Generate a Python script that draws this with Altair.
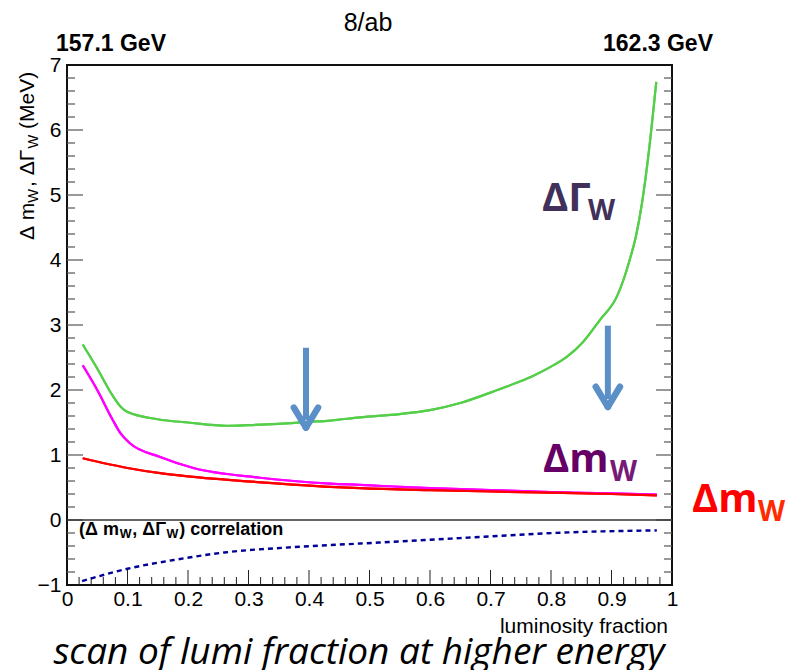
import altair as alt
import pandas as pd

# ---------------- data ----------------
gamma_frac = [0.026, 0.05, 0.075, 0.09, 0.10, 0.15, 0.20, 0.264, 0.30, 0.35, 0.40, 0.435, 0.484,
              0.55, 0.60, 0.65, 0.70, 0.743, 0.771, 0.80, 0.826, 0.853, 0.881, 0.909, 0.92,
              0.93, 0.94, 0.95, 0.962, 0.974]
gamma_val = [2.70, 2.33, 1.92, 1.73, 1.66, 1.55, 1.50, 1.45, 1.46, 1.48, 1.51, 1.53, 1.58,
             1.63, 1.69, 1.80, 1.96, 2.11, 2.22, 2.36, 2.51, 2.74, 3.08, 3.44, 3.70,
             4.00, 4.35, 4.85, 5.69, 6.74]

mw1_frac = [0.026, 0.05, 0.075, 0.088, 0.104, 0.154, 0.209, 0.319, 0.435, 0.484, 0.60, 0.70, 0.80, 0.90, 0.975]
mw1_val = [2.38, 2.00, 1.55, 1.34, 1.18, 0.97, 0.80, 0.65, 0.56, 0.54, 0.49, 0.46, 0.43, 0.41, 0.39]

mw2_frac = [0.026, 0.10, 0.154, 0.20, 0.32, 0.435, 0.484, 0.60, 0.70, 0.80, 0.90, 0.975]
mw2_val = [0.95, 0.80, 0.72, 0.67, 0.58, 0.51, 0.49, 0.46, 0.44, 0.42, 0.40, 0.38]

corr_frac = [0.025, 0.10, 0.18, 0.26, 0.37, 0.51, 0.666, 0.83, 0.975]
corr_val = [-0.94, -0.75, -0.61, -0.50, -0.42, -0.35, -0.27, -0.19, -0.16]

x_ticks = [0, 0.1, 0.2, 0.3, 0.4, 0.5, 0.6, 0.7, 0.8, 0.9, 1]
y_ticks = [-1, 0, 1, 2, 3, 4, 5, 6, 7]

# arrows (annotation): x, top, tip in data units
arrow_x = [0.395, 0.894]
arrow_top = [2.65, 2.99]
arrow_tip = [1.42, 1.74]

# ---------------- layout ----------------
W, H = 605, 520
X0, Y0 = 67, 65
xs = alt.Scale(domain=[0, 1], nice=False, zero=False)
ys = alt.Scale(domain=[-1, 7], nice=False, zero=False)
ROOTF = "Liberation Sans"
SLIDEF = "Open Sans"

x_axis = alt.Axis(
    values=x_ticks, ticks=False, domain=False, grid=False, title=None,
    labelExpr="datum.value == 0 ? '0' : (datum.value == 1 ? '1' : format(datum.value, '.1f'))",
    labelFont=ROOTF, labelFontSize=21, labelColor="#000", labelPadding=3, labelFlush=False)
y_axis = alt.Axis(
    values=y_ticks, ticks=False, domain=False, grid=False, title=None, format="d",
    labelFont=ROOTF, labelFontSize=21, labelColor="#000", labelPadding=6, labelFlush=False)


def X(f):
    return alt.X(f, scale=xs, axis=x_axis)


def Y(f):
    return alt.Y(f, scale=ys, axis=y_axis)


series_names = ["gamma", "mw_magenta", "mw_red"]
df_lines = pd.concat([
    pd.DataFrame({"frac": gamma_frac, "val": gamma_val, "s": "gamma"}),
    pd.DataFrame({"frac": mw1_frac, "val": mw1_val, "s": "mw_magenta"}),
    pd.DataFrame({"frac": mw2_frac, "val": mw2_val, "s": "mw_red"}),
])

layers = []

# main curves (first layer, carries the axes)
lines = alt.Chart(df_lines).mark_line(strokeWidth=2.2, interpolate="monotone").encode(
    x=X("frac:Q"),
    y=Y("val:Q"),
    color=alt.Color("s:N", scale=alt.Scale(domain=series_names,
                                           range=["#55cf4a", "#ff00ff", "#ff0000"]), legend=None),
    detail="s:N",
    order=alt.Order("frac:Q"),
)
layers.append(lines)

# tick marks (inward, ROOT style) drawn as rules
ymaj = [v for v in y_ticks if -1 < v < 7]
ymin = [round(k * 0.2, 2) for k in range(-4, 35) if k % 5 != 0]
xmaj = [v for v in x_ticks if 0 < v < 1]
xmin = [round(k * 0.02, 2) for k in range(1, 50) if k % 5 != 0]
tick_col = "#555555"
for vals, L in [(ymaj, 16), (ymin, 8)]:
    d = pd.DataFrame({"v": vals})
    layers.append(alt.Chart(d).mark_rule(color=tick_col, strokeWidth=1.2).encode(
        y=Y("v:Q"), x=alt.value(0), x2=alt.value(L)))
    layers.append(alt.Chart(d).mark_rule(color=tick_col, strokeWidth=1.2).encode(
        y=Y("v:Q"), x=alt.value(W - L), x2=alt.value(W)))
for vals, L in [(xmaj, 15), (xmin, 8)]:
    d = pd.DataFrame({"v": vals})
    layers.append(alt.Chart(d).mark_rule(color="#222222", strokeWidth=1).encode(
        x=X("v:Q"), y=alt.value(H - L), y2=alt.value(H)))

# zero line
layers.append(alt.Chart(pd.DataFrame({"z": [0]})).mark_rule(color="#333333", strokeWidth=1.5).encode(
    y=Y("z:Q")))

# re-draw curves on top of ticks
layers.append(lines)

# correlation (dashed)
layers.append(alt.Chart(pd.DataFrame({"frac": corr_frac, "val": corr_val})).mark_line(
    color="#000099", strokeWidth=2.4, strokeDash=[5, 4], interpolate="monotone").encode(
    x=X("frac:Q"), y=Y("val:Q")))

# arrows
arrow_col = "#5b8fc8"
dfa = pd.DataFrame({"x": arrow_x, "top": arrow_top, "tip": arrow_tip})
dfa["shaft_end"] = dfa["tip"] + 0.12
dfa["xl"] = dfa["x"] - 0.02
dfa["xr"] = dfa["x"] + 0.02
dfa["yh"] = dfa["tip"] + 0.31
layers.append(alt.Chart(dfa).mark_rule(color=arrow_col, strokeWidth=6).encode(
    x=X("x:Q"), y=Y("top:Q"), y2="shaft_end:Q"))
for xc in ["xl", "xr"]:
    layers.append(alt.Chart(dfa).mark_rule(color=arrow_col, strokeWidth=6.5, strokeCap="round").encode(
        x=X("x:Q"), x2=f"{xc}:Q", y=Y("tip:Q"), y2="yh:Q"))


# ---------------- text ----------------
def label(text, ax, ay, **kw):
    return alt.Chart(pd.DataFrame({"t": [text]})).mark_text(**kw).encode(
        text="t:N", x=alt.value(ax - X0), y=alt.value(ay - Y0))


WID = {"(": .333, ")": .333, "Δ": .668, "Γ": .556, "m": .833, "W": .944, ",": .278, " ": .278,
       "\u00a0": .278, "M": .833, "e": .556, "V": .667, "c": .5, "o": .556, "r": .333, "l": .222,
       "a": .556, "t": .278, "i": .222, "n": .556}


def tw(s, size, bold=False):
    return sum(WID.get(c, .55) for c in s) * size * (1.07 if bold else 1.0)


NB = "\u00a0"

# top labels
layers.append(label("8/ab", 368, 23, font=ROOTF, fontSize=25, align="center", color="#000"))
layers.append(label("157.1 GeV", 111, 44, font=ROOTF, fontSize=23, fontWeight="bold", align="center", color="#000"))
layers.append(label("162.3 GeV", 658, 44, font=ROOTF, fontSize=23, fontWeight="bold", align="center", color="#000"))

# x axis title
layers.append(label("luminosity fraction", 668, 627, font=ROOTF, fontSize=21, align="right", color="#000"))

# y axis title (rotated, pieces with subscripts)
ypos = 240
for txt, sub, gap in [("Δ" + NB + "m", False, 0), ("W", True, 2), ("," + NB + "ΔΓ", False, 1),
                      ("W", True, 6), ("(MeV)", False, 0)]:
    fs = 14.5 if sub else 21
    layers.append(label(txt, 38 if sub else 34, ypos, font=ROOTF, fontSize=fs, angle=270,
                        align="left", baseline="alphabetic", color="#000"))
    ypos -= tw(txt, fs) + gap

# correlation label
xpos = 79
for txt, sub in [("(Δ" + NB + "m", False), ("W", True), ("," + NB + "ΔΓ", False), ("W", True),
                 (")" + NB + "correlation", False)]:
    fs = 12.5 if sub else 18
    layers.append(label(txt, xpos, 538 if sub else 535, font=ROOTF, fontSize=fs, fontWeight="bold",
                        align="left", baseline="alphabetic", color="#000"))
    xpos += tw(txt, fs, bold=True)

# slide annotations
layers.append(label("ΔΓ", 542, 199, font=SLIDEF, fontSize=40, fontWeight="bold", align="left", color="#40305a"))
layers.append(label("W", 588, 212, font=SLIDEF, fontSize=28, fontWeight="bold", align="left", color="#40305a"))
layers.append(label("Δm", 543, 460, font=SLIDEF, fontSize=40, fontWeight="bold", align="left", color="#660066"))
layers.append(label("W", 610, 473, font=SLIDEF, fontSize=28, fontWeight="bold", align="left", color="#771a77"))
layers.append(label("Δm", 692, 500, font=SLIDEF, fontSize=40, fontWeight="bold", align="left", color="#ff0000"))
layers.append(label("W", 758, 513, font=SLIDEF, fontSize=28, fontWeight="bold", align="left", color="#ff2a00"))

# bottom caption
layers.append(label("scan of lumi fraction at higher energy", 359, 653, font=SLIDEF, fontSize=37,
                    fontStyle="italic", align="center", color="#000"))

chart = alt.layer(*layers).properties(
    width=W, height=H, autosize="none", background="white",
    padding={"left": X0, "top": Y0, "right": 789 - X0 - W, "bottom": 670 - Y0 - H},
).configure_view(stroke="#111111", strokeWidth=2)

chart.save("out.html", embed_options={"renderer": "svg", "actions": False})
